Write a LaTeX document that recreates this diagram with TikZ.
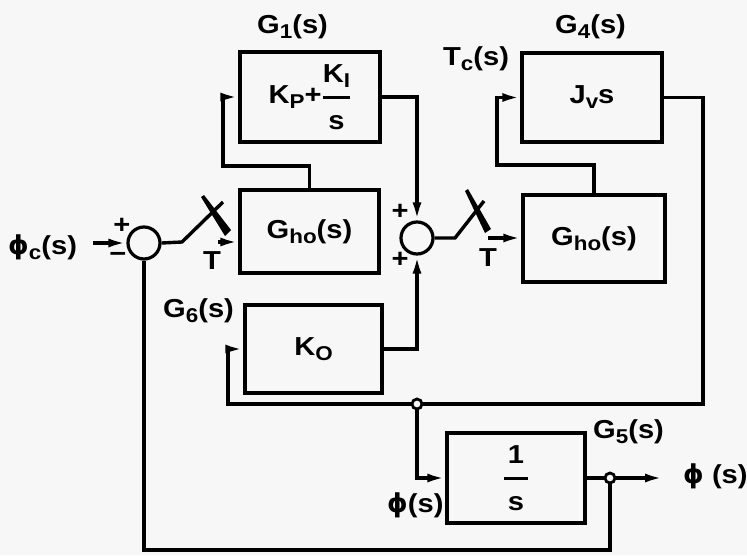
\documentclass[tikz,border=0pt]{standalone}
\usepackage{fontspec}
\newfontfamily\dfont{Liberation Sans}[FakeStretch=1.12]
\newfontfamily\phifont{DejaVu Sans}
\usetikzlibrary{arrows.meta}
\newcommand\sbs[1]{\raisebox{-5pt}{\fontsize{20}{20}\selectfont #1}}
\newcommand\frc[2]{$\displaystyle{\hbox{\rule[-5pt]{0pt}{5pt}#1}\above 2.8pt\hbox{\rule{0pt}{22pt}#2}}$}
\newcommand\ph{{\phifont\bfseries ϕ}}
\tikzset{
  txt/.style={font=\dfont\bfseries\fontsize{26}{28}\selectfont},
  blk/.style={draw,line width=3.4pt,inner sep=0pt,txt},
  sumj/.style={draw,circle,line width=3.2pt,minimum size=32pt,inner sep=0pt},
  pick/.style={draw,circle,line width=2.8pt,minimum size=10pt,inner sep=0pt,fill=black!3},
  lbl/.style={inner sep=0pt,anchor=base west,txt},
  sgn/.style={inner sep=0pt,txt},
  wire/.style={line width=3.4pt},
  arr/.style={wire,-{Latex[length=18pt,width=9pt]}},
}
\begin{document}
\begin{tikzpicture}[x=1pt,y=-1pt]
\fill[black!3] (0,0) rectangle (747,555);
\useasboundingbox (0,0) rectangle (747,555);
% blocks
\node[blk,minimum width=140pt,minimum height=90pt] (g1) at (310,97) {K\sbs{P}+\frc{K\sbs{I}}{s}};
\node[blk,minimum width=139pt,minimum height=83pt] (gho1) at (309.5,231.5) {G\sbs{ho}(s)};
\node[blk,minimum width=137pt,minimum height=88pt] (ko) at (313.5,349) {K\sbs{O}};
\node[blk,minimum width=140pt,minimum height=89pt] (jv) at (592,97.5) {J\sbs{v}s};
\node[blk,minimum width=142pt,minimum height=87pt] (gho2) at (594,238.5) {G\sbs{ho}(s)};
\node[blk,minimum width=138pt,minimum height=90pt] (integ) at (516,478) {\frc{\,1\,}{s}};
% junctions
\node[sumj] (j1) at (144,243) {};
\node[sumj] (j2) at (417,238) {};
% labels
\node[lbl] (phic) at (8,254) {\ph\sbs{c}(s)};
\node[lbl] (lg1) at (257,33) {G\sbs{1}(s)};
\node[lbl] (lg4) at (555,33) {G\sbs{4}(s)};
\node[lbl] (ltc) at (443,65) {T\sbs{c}(s)};
\node[lbl] (lg6) at (163,317) {G\sbs{6}(s)};
\node[lbl] (lg5) at (593,438) {G\sbs{5}(s)};
\node[lbl] (lphout) at (683,483) {\ph\ (s)};
\node[lbl] (lphin) at (387,512) {\ph(s)};
\node[sgn,anchor=base] (T1) at (212,269) {T};
\node[sgn,anchor=base] (T2) at (488,266) {T};
\node[sgn] (p1s) at (122,226) {+};
\node[sgn] (m1s) at (118,257) {\textminus};
\node[sgn] (p2a) at (400,212) {+};
\node[sgn] (p2b) at (400,260) {+};
% coordinates
\coordinate (in) at (93,243);
\coordinate (s1a) at (182,242);
\coordinate (s1b) at (223,202);
\coordinate (t1) at (218,242);
\coordinate (s2a) at (455,238);
\coordinate (s2b) at (484,201);
\coordinate (t2) at (488,238);
\coordinate (fb1) at (223,166);
\coordinate (fb2) at (497,165);
\coordinate (rr) at (703,404);
\coordinate (kl) at (228,404);
\coordinate (bot) at (610,550);
\node[pick] (pk1) at (417,404) {};
\node[pick] (pk2) at (610,478) {};
\coordinate (out) at (663,478);
% input
\draw[arr] (in) -- (j1.west);
% switch 1
\draw[wire] (j1.east) -- (s1a) -- (s1b);
\fill (201,197) -- (204,195) -- (231,230) -- (225,236) -- cycle;
\draw[arr] (t1) -- (t1 -| gho1.west);
% Gho1 -> G1
\draw[arr] (gho1.north) |- (fb1) |- (g1.west);
% G1 -> j2
\draw[arr] (g1.east) -| (j2.north);
% KO -> j2
\draw[arr] (ko.east) -| (j2.south);
% switch 2
\draw[wire] (j2.east) -- (s2a) -- (s2b);
\fill (465,191) -- (468,189) -- (491,229) -- (485,233) -- cycle;
\draw[arr] (t2) -- (t2 -| gho2.west);
% Gho2 -> Jv
\draw[arr] (gho2.north) |- (fb2) |- (jv.west);
% Jv -> pickoff
\draw[wire] (jv.east) -| (rr) -- (pk1.east);
% pickoff -> KO
\draw[arr] (pk1.west) -- (kl) |- (ko.west);
% pickoff -> 1/s
\draw[arr] (pk1.south) |- (integ.west);
% 1/s -> output
\draw[wire] (integ.east) -- (pk2.west);
\draw[arr] (pk2.east) -- (out);
% feedback
\draw[wire] (pk2.south) -- (bot) -| (j1.south);
\end{tikzpicture}
\end{document}
